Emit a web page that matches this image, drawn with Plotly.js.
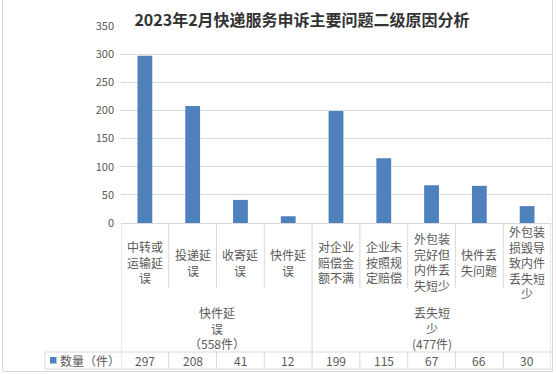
<!DOCTYPE html>
<html>
<head>
<meta charset="utf-8">
<script src="https://cdn.plot.ly/plotly-3.0.1.min.js"></script>
<style>html,body{margin:0;padding:0;background:#fff;}#chart{width:556px;height:374px;}</style>
</head>
<body>
<div id="chart"></div>
<script>
// ---- data ----
var categories = ["中转或运输延误","投递延误","收寄延误","快件延误","对企业赔偿金额不满","企业未按照规定赔偿","外包装完好但内件丢失短少","快件丢失问题","外包装损毁导致内件丢失短少"];
var counts = [297, 208, 41, 12, 199, 115, 67, 66, 30];
var groupNames = ["快件延误", "丢失短少"];
var groupTotals = ["（558件）", "(477件)"];
var groupSizes = [4, 5];
var seriesName = "数量（件）";
var titleText = "2023年2月快递服务申诉主要问题二级原因分析";

// ---- helpers ----
var W = 556, H = 374;
function py(px){ return (H - px) / H; }
function px2x(px){ return px / W; }
function wrap3(s){ var out=[]; for (var i=0;i<s.length;i+=3) out.push(s.slice(i,i+3)); return out.join("<br>"); }

var xIdx = categories.map(function(_, i){ return i; });
var txtColor = "#595959";
var lineColor = "#d9d9d9";
var font = "Noto Sans CJK SC, sans-serif";

var trace = {
  type: "bar",
  x: xIdx,
  y: counts,
  marker: {color: "#4F81BD"},
  hoverinfo: "y"
};

var shapes = [];
var annotations = [];

// outer border
shapes.push({type:"rect", xref:"paper", yref:"paper", x0:px2x(2.5), x1:px2x(552.5), y0:py(371.5), y1:py(-2), line:{color:lineColor, width:1}});

// table geometry (pixels)
var yAxisPx = 223, yCatBottom = 288, yRowTop = 352, yRowBottom = 369;

// category labels and separators
var groupStarts = [];
var acc = 0;
groupSizes.forEach(function(s){ groupStarts.push(acc); acc += s; });

for (var i = 0; i <= categories.length; i++) {
  var isGroupEdge = groupStarts.indexOf(i) >= 0 || i === categories.length;
  // upper part
  shapes.push({type:"line", xref:"x", yref:"paper", x0:i-0.5, x1:i-0.5,
    y0: py(isGroupEdge ? yRowBottom : yCatBottom), y1: py(yAxisPx), line:{color:lineColor, width:1}});
  if (!isGroupEdge) {
    shapes.push({type:"line", xref:"x", yref:"paper", x0:i-0.5, x1:i-0.5,
      y0: py(yRowBottom), y1: py(yRowTop), line:{color:lineColor, width:1}});
  }
}
categories.forEach(function(c, i){
  annotations.push({xref:"x", yref:"paper", x:i, y:py(262), text:wrap3(c), showarrow:false,
    xanchor:"center", yanchor:"middle", align:"center", font:{family:font, size:12, color:txtColor}});
  annotations.push({xref:"x", yref:"paper", x:i, y:py(360.5), text:String(counts[i]), showarrow:false,
    xanchor:"center", yanchor:"middle", font:{family:font, size:12, color:txtColor}});
});
groupNames.forEach(function(g, k){
  var start = groupStarts[k], end = start + groupSizes[k] - 1;
  annotations.push({xref:"x", yref:"paper", x:(start+end)/2, y:py(328), text:wrap3(g) + "<br>" + groupTotals[k], showarrow:false,
    xanchor:"center", yanchor:"middle", align:"center", font:{family:font, size:12, color:txtColor}});
});

// data row horizontal lines and legend cell
shapes.push({type:"line", xref:"paper", yref:"paper", x0:px2x(45), x1:px2x(552), y0:py(yRowTop), y1:py(yRowTop), line:{color:lineColor, width:1}});
shapes.push({type:"line", xref:"paper", yref:"paper", x0:px2x(45), x1:px2x(552), y0:py(yRowBottom), y1:py(yRowBottom), line:{color:lineColor, width:1}});
shapes.push({type:"line", xref:"paper", yref:"paper", x0:px2x(45), x1:px2x(45), y0:py(yRowBottom), y1:py(yRowTop), line:{color:lineColor, width:1}});
shapes.push({type:"rect", xref:"paper", yref:"paper", x0:px2x(50), x1:px2x(56.5), y0:py(363.5), y1:py(357), fillcolor:"#4F81BD", line:{width:0}});
annotations.push({xref:"paper", yref:"paper", x:px2x(57.5), y:py(360.5), text:seriesName, showarrow:false,
  xanchor:"left", yanchor:"middle", font:{family:font, size:12, color:txtColor}});

var layout = {
  width: W, height: H,
  margin: {l:0, r:0, t:0, b:0},
  paper_bgcolor: "#fff", plot_bgcolor: "#fff",
  showlegend: false,
  bargap: 0.69,
  title: {text: titleText, x: px2x(302), xanchor:"center", y: py(20), yanchor:"middle", yref:"paper",
    font:{family:font, size:16, color:"#333333", weight:"bold"}},
  xaxis: {domain:[px2x(121), px2x(551)], range:[-0.5, categories.length-0.5], showticklabels:false,
    showgrid:false, zeroline:false, showline:false, fixedrange:true},
  yaxis: {domain:[py(yAxisPx), py(26)], range:[0, 350], dtick:50, tick0:0, showgrid:true, gridcolor:lineColor, gridwidth:1,
    zeroline:true, zerolinecolor:lineColor, zerolinewidth:1, showline:false, ticks:"", ticklabelstandoff:6,
    tickfont:{family:font, size:11, color:txtColor}, fixedrange:true},
  shapes: shapes,
  annotations: annotations
};

Plotly.newPlot("chart", [trace], layout, {displayModeBar:false, staticPlot:true});
</script>
</body>
</html>
